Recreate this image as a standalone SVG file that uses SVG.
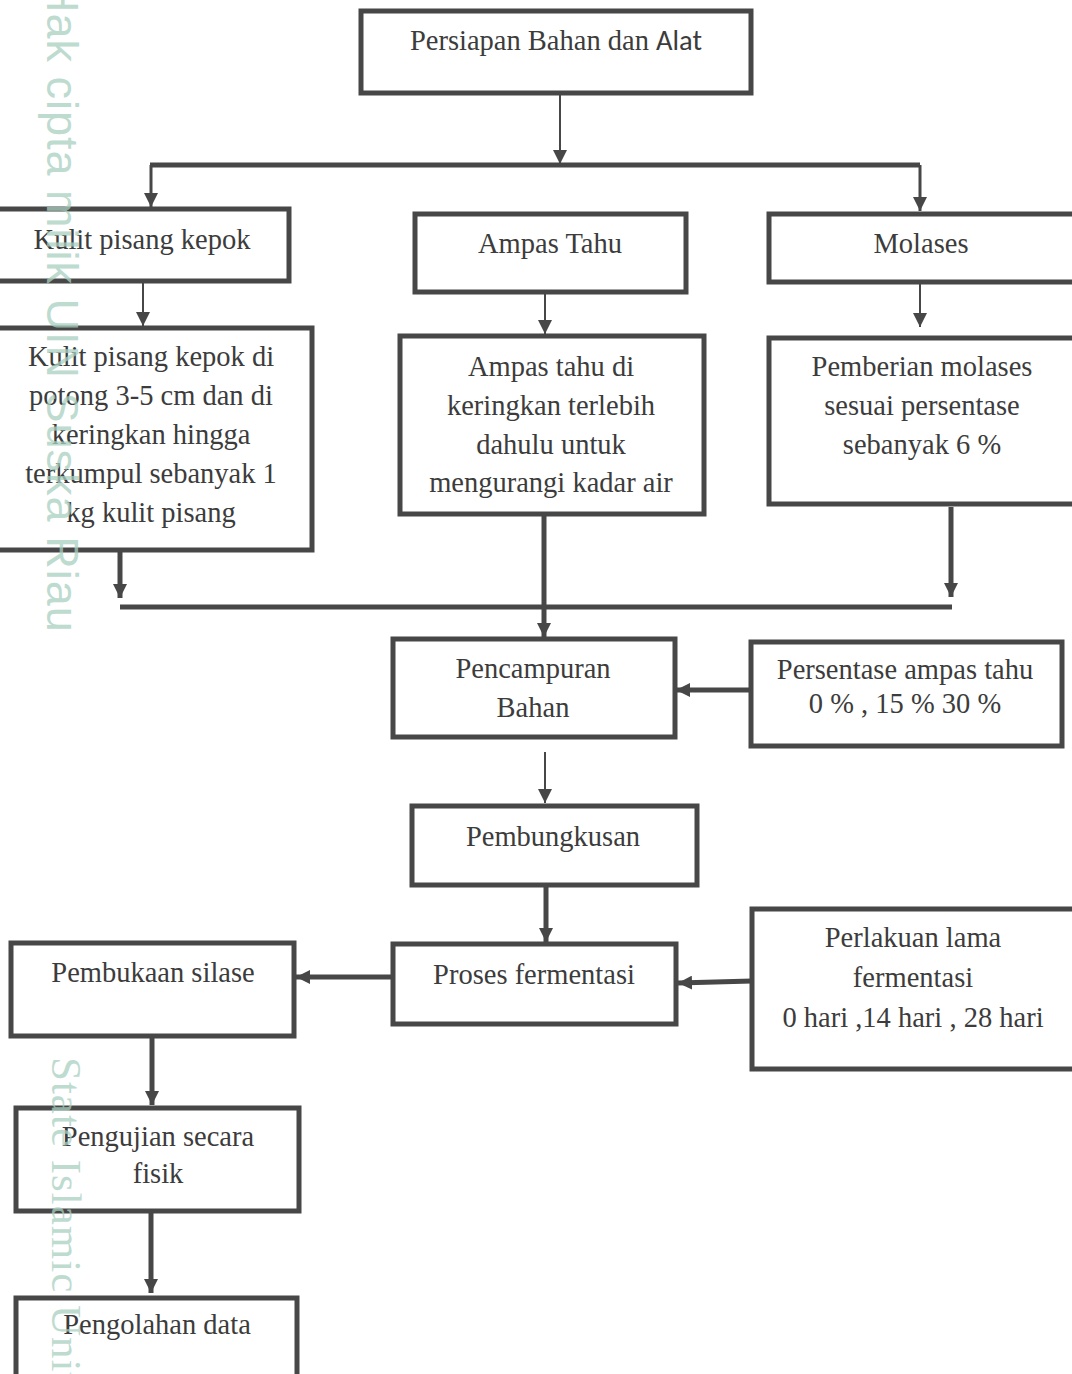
<svg xmlns="http://www.w3.org/2000/svg" width="1072" height="1374" viewBox="0 0 1072 1374">
<defs>
<style>
.box{fill:#ffffff;stroke:#474747;stroke-width:5}
.t{font-family:"Liberation Serif","Times New Roman",serif;font-size:28.5px;fill:#3c3c3c;text-anchor:middle}
.c{fill:none;stroke:#474747}
.thin{stroke-width:2}
.mid{stroke-width:3}
.thick{stroke-width:5}
.wm{fill:#a9cfbf;opacity:0.75}
</style>
<marker id="ah" viewBox="0 0 14 14" refX="14" refY="7" markerWidth="14" markerHeight="14" markerUnits="userSpaceOnUse" orient="auto">
<path d="M0,0 L14,7 L0,14 Z" fill="#474747"/>
</marker>
</defs>
<rect width="1072" height="1374" fill="#ffffff"/>
<g id="connectors">
<path class="c thin" d="M560,94 V164" marker-end="url(#ah)"/>
<path class="c thick" d="M150,165 H920"/>
<path class="c mid" d="M151,165 V207" marker-end="url(#ah)"/>
<path class="c mid" d="M920,165 V211" marker-end="url(#ah)"/>
<path class="c thin" d="M143,282 V326" marker-end="url(#ah)"/>
<path class="c thin" d="M545,293 V334" marker-end="url(#ah)"/>
<path class="c thin" d="M920,283 V327" marker-end="url(#ah)"/>
<path class="c thick" d="M120,607 H952"/>
<path class="c thick" d="M120,551 V598" marker-end="url(#ah)"/>
<path class="c thick" d="M544,515 V637" marker-end="url(#ah)"/>
<path class="c thick" d="M951,507 V597" marker-end="url(#ah)"/>
<path class="c thick" d="M750,690 H676" marker-end="url(#ah)"/>
<path class="c thin" d="M545,752 V803" marker-end="url(#ah)"/>
<path class="c thick" d="M546,886 V942" marker-end="url(#ah)"/>
<path class="c thick" d="M752,981 L678,983" marker-end="url(#ah)"/>
<path class="c thick" d="M392,977 H296" marker-end="url(#ah)"/>
<path class="c thick" d="M152,1037 V1105" marker-end="url(#ah)"/>
<path class="c thick" d="M151,1212 V1293" marker-end="url(#ah)"/>
</g>
<g id="n-persiapan">
<rect class="box" x="361" y="11" width="390" height="82"/>
<text class="t" x="556" y="50">Persiapan Bahan dan <tspan font-family="Carlito, 'Liberation Sans', Arial, sans-serif">Alat</tspan></text>
</g>
<g id="n-kulit">
<rect class="box" x="-10" y="209" width="299" height="72"/>
<text class="t" x="142" y="249">Kulit pisang kepok</text>
</g>
<g id="n-ampas">
<rect class="box" x="415" y="214" width="271" height="78"/>
<text class="t" x="550" y="253">Ampas Tahu</text>
</g>
<g id="n-molases">
<rect class="box" x="769" y="214" width="313" height="68"/>
<text class="t" x="921" y="253">Molases</text>
</g>
<g id="n-kulit-proses">
<rect class="box" x="-10" y="328" width="322" height="222"/>
<text class="t" x="151" y="366">Kulit pisang kepok di</text>
<text class="t" x="151" y="405">potong 3-5 cm dan di</text>
<text class="t" x="151" y="444">keringkan hingga</text>
<text class="t" x="151" y="483">terkumpul sebanyak 1</text>
<text class="t" x="151" y="522">kg kulit pisang</text>
</g>
<g id="n-ampas-proses">
<rect class="box" x="400" y="336" width="304" height="178"/>
<text class="t" x="551" y="376">Ampas tahu di</text>
<text class="t" x="551" y="415">keringkan terlebih</text>
<text class="t" x="551" y="454">dahulu untuk</text>
<text class="t" x="551" y="492">mengurangi kadar air</text>
</g>
<g id="n-molases-proses">
<rect class="box" x="769" y="338" width="313" height="166"/>
<text class="t" x="922" y="376">Pemberian molases</text>
<text class="t" x="922" y="415">sesuai persentase</text>
<text class="t" x="922" y="454">sebanyak 6 %</text>
</g>
<g id="n-pencampuran">
<rect class="box" x="393" y="639" width="282" height="98"/>
<text class="t" x="533" y="678">Pencampuran</text>
<text class="t" x="533" y="717">Bahan</text>
</g>
<g id="n-persentase">
<rect class="box" x="751" y="642" width="311" height="104"/>
<text class="t" x="905" y="679">Persentase ampas tahu</text>
<text class="t" x="905" y="713">0 % , 15 % 30 %</text>
</g>
<g id="n-pembungkusan">
<rect class="box" x="412" y="806" width="285" height="79"/>
<text class="t" x="553" y="846">Pembungkusan</text>
</g>
<g id="n-proses">
<rect class="box" x="393" y="944" width="283" height="80"/>
<text class="t" x="534" y="984">Proses fermentasi</text>
</g>
<g id="n-perlakuan">
<rect class="box" x="752" y="909" width="330" height="160"/>
<text class="t" x="913" y="947">Perlakuan lama</text>
<text class="t" x="913" y="987">fermentasi</text>
<text class="t" x="913" y="1027">0 hari ,14 hari , 28 hari</text>
</g>
<g id="n-pembukaan">
<rect class="box" x="11" y="943" width="283" height="93"/>
<text class="t" x="153" y="982">Pembukaan silase</text>
</g>
<g id="n-pengujian">
<rect class="box" x="16" y="1108" width="283" height="103"/>
<text class="t" x="158" y="1146">Pengujian secara</text>
<text class="t" x="158" y="1183">fisik</text>
</g>
<g id="n-pengolahan">
<rect class="box" x="16" y="1298" width="281" height="90"/>
<text class="t" x="157" y="1334">Pengolahan data</text>
</g>
<g id="watermark">
<text class="wm" transform="translate(47,-20) rotate(90)" font-family="Liberation Sans, Arial, sans-serif" font-size="45" letter-spacing="1">Hak cipta milik UIN Suska Riau</text>
<text class="wm" transform="translate(52,1057) rotate(90)" font-family="Liberation Serif, Times New Roman, serif" font-size="43" letter-spacing="1">State Islamic University</text>
</g>
</svg>
